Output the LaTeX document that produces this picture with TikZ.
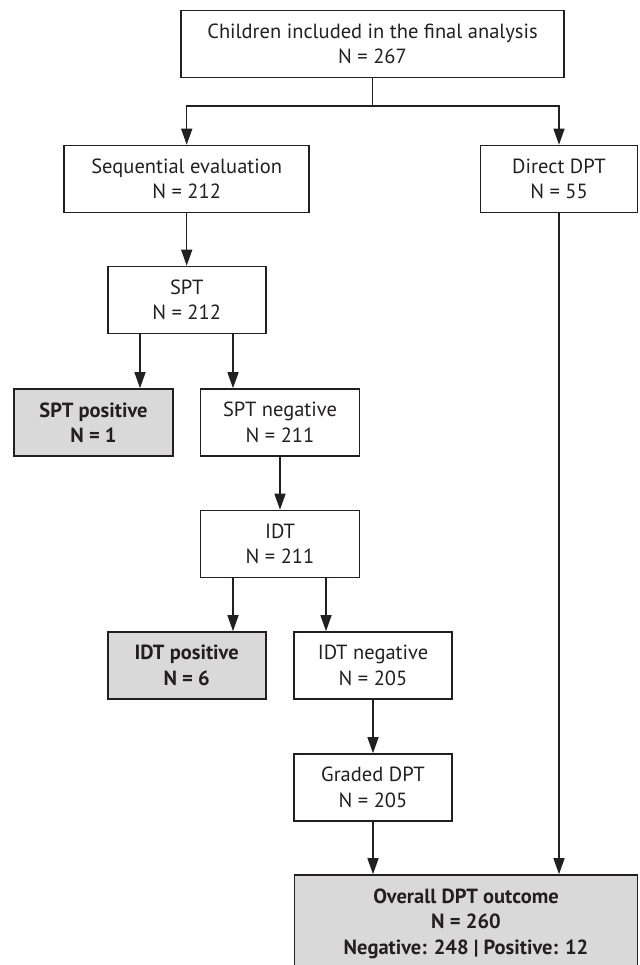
\documentclass[tikz,border=0pt]{standalone}
\usepackage{fontspec}
\setmainfont{PT Sans}
\usetikzlibrary{arrows.meta}
\definecolor{lnc}{HTML}{231F20}
\definecolor{grc}{HTML}{D9D9D9}
\begin{document}
\begin{tikzpicture}[x=1pt,y=-1pt,
 box/.style={draw=lnc, line width=1.6pt, minimum height=67pt, inner sep=0pt, align=center, text=lnc, font=\fontsize{20.5}{25.5}\selectfont},
 hit/.style={box, fill=grc, font=\fontsize{20.5}{25.5}\selectfont\bfseries},
 arr/.style={draw=lnc, line width=1.4pt, -{Triangle[length=16pt,width=11pt]}}]
\useasboundingbox (0,0) rectangle (639,965);
\node[box, minimum width=383pt] (top) at (372.5,44) {Children included in the final analysis\\N = 267};
\node[box, minimum width=245pt] (seq) at (186.7,179) {Sequential evaluation\\N = 212};
\node[box, minimum width=157pt] (direct) at (559,179) {Direct DPT\\N = 55};
\node[box, minimum width=158pt] (spt) at (186.7,300) {SPT\\N = 212};
\node[hit, minimum width=159pt] (sptpos) at (93.5,422.5) {SPT positive\\N = 1};
\node[box, minimum width=159pt] (sptneg) at (280,422.5) {SPT negative\\N = 211};
\node[box, minimum width=159pt] (idt) at (280,544) {IDT\\N = 211};
\node[hit, minimum width=158pt] (idtpos) at (186.7,665.5) {IDT positive\\N = 6};
\node[box, minimum width=158pt] (idtneg) at (373,665.5) {IDT negative\\N = 205};
\node[box, minimum width=158pt] (graded) at (373,787.5) {Graded DPT\\N = 205};
\node[hit, minimum width=343pt, minimum height=97pt] (overall) at (466,923.5) {Overall DPT outcome\\N = 260\\Negative: 248 | Positive: 12};
\coordinate (brY) at (0,106);
\coordinate (xa) at (140,0);
\coordinate (xb) at (233,0);
\coordinate (xc) at (326,0);
\draw[arr] (top.south) -- (top.south |- brY) -| (seq.north);
\draw[arr] (top.south |- brY) -| (direct.north);
\draw[arr] (seq.south) -- (spt.north);
\draw[arr] (direct.south) -- (direct.south |- overall.north);
\draw[arr] (spt.south -| xa) -- (sptpos.north -| xa);
\draw[arr] (spt.south -| xb) -- (sptneg.north -| xb);
\draw[arr] (sptneg.south) -- (idt.north);
\draw[arr] (idt.south -| xb) -- (idtpos.north -| xb);
\draw[arr] (idt.south -| xc) -- (idtneg.north -| xc);
\draw[arr] (idtneg.south) -- (graded.north);
\draw[arr] (graded.south) -- (graded.south |- overall.north);
\end{tikzpicture}
\end{document}
